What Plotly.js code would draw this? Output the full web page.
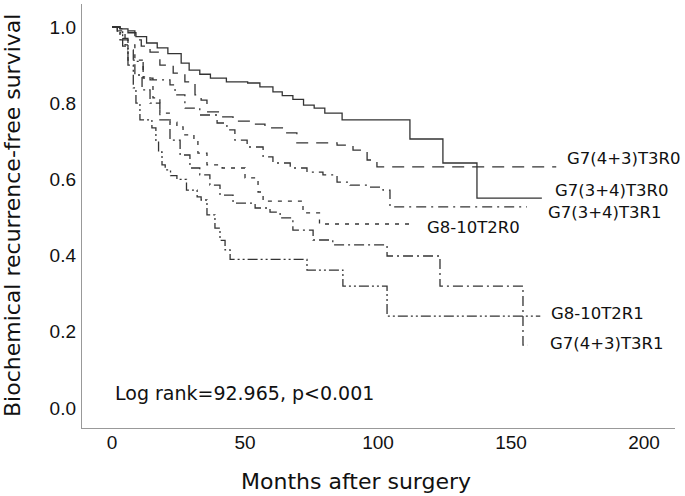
<!DOCTYPE html>
<html>
<head>
<meta charset="utf-8">
<script src="https://cdn.plot.ly/plotly-3.0.1.min.js"></script>
<style>
    html, body { margin: 0; padding: 0; background: #fff; }
    #kmChart { width: 685px; height: 496px; }
</style>
</head>
<body>
<div id="kmChart"></div>
<script>
// group names, as written next to each curve
const groupNames = ["G7(3+4)T3R0", "G7(4+3)T3R0", "G7(3+4)T3R1", "G8-10T2R0", "G8-10T2R1", "G7(4+3)T3R1"];

// months after surgery / survival
const monthsG734R0 = [0, 3, 6, 9, 13, 17, 21, 26, 29, 33, 37, 43, 51, 55.6, 60.5, 64, 68, 72, 76, 80, 86.5, 112, 124.4, 137.2, 161.6];
const survG734R0 = [1, 0.995, 0.985, 0.975, 0.958, 0.945, 0.93, 0.905, 0.887, 0.876, 0.866, 0.856, 0.853, 0.843, 0.83, 0.82, 0.81, 0.795, 0.787, 0.774, 0.756, 0.706, 0.643, 0.551, 0.551];

const monthsG743R0 = [0, 3, 4.9, 8.6, 11, 14.3, 18, 23, 27.4, 31.2, 33.5, 35.7, 40.6, 45.5, 53, 57.5, 65, 69.5, 84.6, 90.6, 95.9, 99.6, 167];
const survG743R0 = [1, 0.996, 0.99, 0.966, 0.95, 0.934, 0.9, 0.879, 0.856, 0.822, 0.808, 0.777, 0.764, 0.753, 0.745, 0.735, 0.722, 0.696, 0.69, 0.677, 0.651, 0.633, 0.633];

const monthsG734R1 = [0, 2, 4, 6, 8, 11.7, 14.3, 21.8, 23.7, 27.4, 33, 39.5, 43.2, 46.2, 50.8, 56.8, 60.5, 67, 73.3, 79.3, 84.6, 89.5, 95.9, 101.9, 104.5, 156];
const survG734R1 = [1, 0.99, 0.97, 0.94, 0.91, 0.869, 0.861, 0.848, 0.822, 0.787, 0.769, 0.748, 0.73, 0.703, 0.685, 0.659, 0.643, 0.63, 0.619, 0.612, 0.593, 0.585, 0.58, 0.572, 0.528, 0.528];

const monthsG810R0 = [0, 2, 4.9, 8.6, 11.7, 15.4, 18, 21.8, 24.4, 26.7, 30.8, 32.3, 35.7, 41.4, 50, 54.9, 56.8, 71.8, 78, 112];
const survG810R0 = [1, 0.99, 0.953, 0.913, 0.866, 0.814, 0.774, 0.75, 0.738, 0.717, 0.703, 0.669, 0.638, 0.63, 0.604, 0.567, 0.543, 0.512, 0.483, 0.483];

const monthsG810R1 = [0, 2, 4, 6, 8, 9, 10.5, 15, 16.5, 17.5, 18.8, 20, 22, 24.4, 28, 32, 33.5, 35.7, 38.7, 40.6, 42.5, 44.4, 73.3, 86.8, 103.4, 161];
const survG810R1 = [1, 0.985, 0.95, 0.9, 0.84, 0.8, 0.756, 0.735, 0.7, 0.672, 0.638, 0.625, 0.61, 0.6, 0.572, 0.554, 0.546, 0.507, 0.472, 0.44, 0.415, 0.39, 0.362, 0.32, 0.241, 0.241];

const monthsG743R1 = [0, 3, 6, 8.6, 11.3, 14.3, 18, 21.8, 25.6, 29.3, 33, 36.8, 40.6, 45.5, 53.8, 59.4, 63.2, 68, 75.6, 83, 103.4, 123.3, 154.5, 156.4];
const survG743R1 = [1, 0.966, 0.913, 0.874, 0.835, 0.8, 0.756, 0.703, 0.664, 0.63, 0.612, 0.585, 0.559, 0.538, 0.525, 0.514, 0.499, 0.467, 0.441, 0.428, 0.399, 0.32, 0.165, 0.165];

const yTicks = [0, 0.2, 0.4, 0.6, 0.8, 1.0];
const xTicks = [0, 50, 100, 150, 200];
const logRankText = "Log rank=92.965, p<0.001";

function generateKmChart() {
    const months = [monthsG734R0, monthsG743R0, monthsG734R1, monthsG810R0, monthsG810R1, monthsG743R1];
    const surv = [survG734R0, survG743R0, survG734R1, survG810R0, survG810R1, survG743R1];
    const dashes = ['solid', '12px,8px', '10px,5px,2px,5px', '4px,6px', '10px,3px,2px,3px,2px,3px', '10px,4px,2px,4px'];
    // where each curve's label sits (x months, y survival)
    const labelPos = [[165.8, 0.572], [170.3, 0.654], [163.2, 0.514], [117.7, 0.475], [164.3, 0.249], [163.9, 0.168]];

    const data = groupNames.map((name, i) => ({
        x: months[i],
        y: surv[i],
        name: name,
        type: 'scatter',
        mode: 'lines',
        line: { shape: 'hv', color: '#333', width: 1.3, dash: dashes[i] },
        hoverinfo: 'x+y+name'
    }));

    const annotations = groupNames.map((name, i) => ({
        x: labelPos[i][0], y: labelPos[i][1], xref: 'x', yref: 'y',
        text: name, showarrow: false, xanchor: 'left', yanchor: 'middle',
        font: { family: 'DejaVu Sans', size: 16.5, color: '#111' }
    }));

    annotations.push({
        x: 0.052, y: 0.0825, xref: 'paper', yref: 'paper',
        text: logRankText, showarrow: false, xanchor: 'left', yanchor: 'middle',
        font: { family: 'DejaVu Sans', size: 19, color: '#111' }
    });
    // axis titles
    annotations.push({
        x: 0.462, y: -0.125, xref: 'paper', yref: 'paper',
        text: 'Months after surgery', showarrow: false, xanchor: 'center', yanchor: 'middle',
        font: { family: 'DejaVu Sans', size: 22, color: '#111' }
    });
    annotations.push({
        x: -0.118, y: 0.5, xref: 'paper', yref: 'paper', textangle: -90,
        text: 'Biochemical recurrence-free survival', showarrow: false, xanchor: 'center', yanchor: 'middle',
        font: { family: 'DejaVu Sans', size: 22, color: '#111' }
    });

    const layout = {
        width: 685,
        height: 496,
        margin: { l: 82, r: 10, t: 4, b: 68 },
        paper_bgcolor: '#fff',
        plot_bgcolor: '#fff',
        showlegend: false,
        xaxis: {
            range: [-11.28, 211.65],
            tickvals: xTicks,
            showgrid: false, zeroline: false,
            showline: true, linecolor: '#999', linewidth: 1.2,
            ticks: '', ticklabelstandoff: -3,
            tickfont: { family: 'Liberation Sans', size: 19, color: '#111' }
        },
        yaxis: {
            range: [-0.0525, 1.0604],
            tickvals: yTicks,
            tickformat: '.1f',
            showgrid: false, zeroline: false,
            showline: true, linecolor: '#999', linewidth: 1.2,
            ticks: '', ticklabelstandoff: 1,
            tickfont: { family: 'Liberation Sans', size: 19, color: '#111' }
        },
        annotations: annotations
    };

    Plotly.newPlot('kmChart', data, layout, { displayModeBar: false, staticPlot: true });
}

generateKmChart();
</script>
</body>
</html>
